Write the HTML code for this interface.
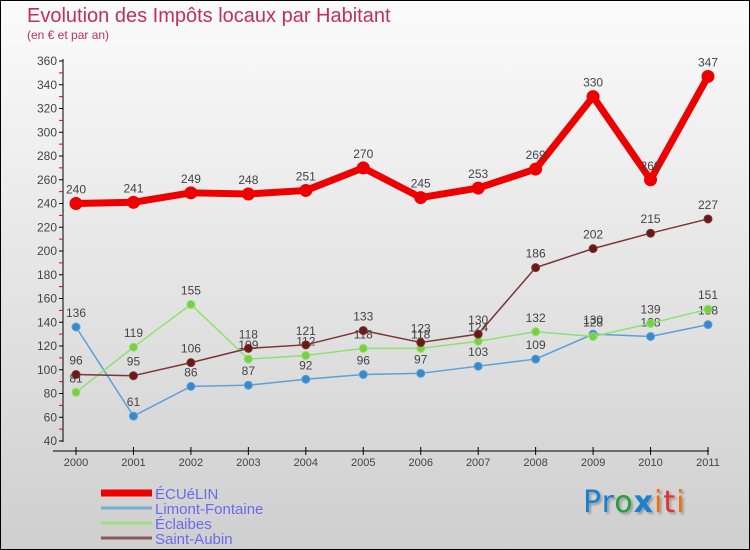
<!DOCTYPE html>
<html><head><meta charset="utf-8"><style>
body{margin:0}
#c{position:relative;width:748px;height:548px;border:1px solid #000;background:linear-gradient(#fbfbfb,#cfcfcf);font-family:"Liberation Sans",sans-serif;overflow:hidden}
.t{position:absolute;color:#c0305a}
</style></head><body>
<div id="c">
<div class="t" style="left:26px;top:4px;font-size:20px">Evolution des Impôts locaux par Habitant</div>
<div class="t" style="left:26px;top:27px;font-size:12px">(en € et par an)</div>
<svg id="s" width="748" height="548" style="position:absolute;left:0;top:0"></svg>
<div style="position:absolute;left:582px;top:484px;font-size:30px;font-family:'DejaVu Sans',sans-serif;letter-spacing:1px;text-shadow:2px 2px 2px #999"><span style="color:#1a80d0">Pr</span><span style="color:#20a040">o</span><span style="color:#1a80d0;font-weight:bold">x</span><span style="color:#f07010">i</span><span style="color:#e03030">t</span><span style="color:#f07010">i</span></div>
</div>
<script>
const years=[2000,2001,2002,2003,2004,2005,2006,2007,2008,2009,2010,2011];
const yTicks=[40,60,80,100,120,140,160,180,200,220,240,260,280,300,320,340,360];
const ecuelin=[240,241,249,248,251,270,245,253,269,330,260,347];
const limont=[136,61,86,87,92,96,97,103,109,130,128,138];
const eclaibes=[81,119,155,109,112,118,118,124,132,128,139,151];
const saintAubin=[96,95,106,118,121,133,123,130,186,202,215,227];
const s=document.getElementById('s'),NS='http://www.w3.org/2000/svg';
const X=i=>75+i*(632/11), Y=v=>440-(v-40)*380/320;
function el(t,a,p){const e=document.createElementNS(NS,t);for(const k in a)e.setAttribute(k,a[k]);(p||s).appendChild(e);return e;}
let ax=el('line',{x1:62,y1:58,x2:62,y2:441,stroke:'#000'});


yTicks.forEach(v=>{el('line',{x1:58,x2:62,y1:Y(v),y2:Y(v),stroke:'#000'});
 if(v<360)el('line',{x1:58,x2:62,y1:Y(v+10),y2:Y(v+10),stroke:'#e00'});
 const t=el('text',{x:56,y:Y(v)+4,'text-anchor':'end','font-size':12,fill:'#444'});t.textContent=v;
 
 });
let xa=el('line',{x1:52,y1:450,x2:708,y2:450,stroke:'#000'});


years.forEach((y,i)=>{el('line',{x1:X(i),x2:X(i),y1:446,y2:454,stroke:'#000'});
 const t=el('text',{x:X(i),y:465,'text-anchor':'middle','font-size':11,fill:'#444'});t.textContent=y;
 
 });
function series(d,col,w,r,dot,name){
 const p=el('polyline',{points:d.map((v,i)=>X(i)+','+Y(v)).join(' '),fill:'none',stroke:col,'stroke-width':w,'stroke-linejoin':'round'});
 
 
 d.forEach((v,i)=>{const c=el('circle',{cx:X(i),cy:Y(v),r:r,fill:dot,stroke:col,'stroke-width':1});
  
  
  const t=el('text',{x:X(i),y:Y(v)-10,'text-anchor':'middle','font-size':12,fill:'#444'});t.textContent=v;
  
  });
}
series(limont,'#5aa0d8',1.5,4,'#3a88cc','limont');
series(eclaibes,'#90e070',1.5,4,'#78d040','eclaibes');
series(saintAubin,'#7a3535',1.5,4,'#6a1818','saint-aubin');
series(ecuelin,'#ee0000',7,6,'#ee0000','ecuelin');
const leg=[['ÉCUéLIN','#ee0000',7],['Limont-Fontaine','#7aaed0',3],['Éclaibes','#a0e080',3],['Saint-Aubin','#8a5a5a',3]];
leg.forEach((l,i)=>{const y=492+i*15;
 const ln=el('line',{x1:100,x2:151,y1:y,y2:y,stroke:l[1],'stroke-width':l[2]});
 
 
 const t=el('text',{x:154,y:y+6,'font-size':15,fill:'#6a6af0'});t.textContent=l[0];
 
 });
</script>
</body></html>
